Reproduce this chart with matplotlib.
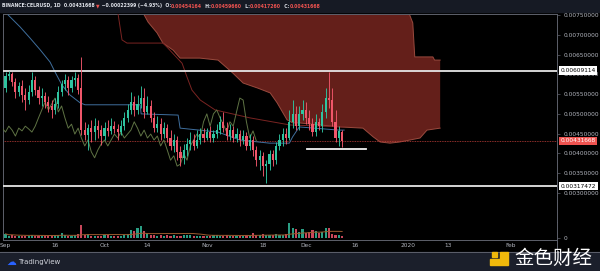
import numpy as np
import pandas as pd
import matplotlib
matplotlib.use("Agg")
import matplotlib.pyplot as plt
from matplotlib.patches import Rectangle, Polygon
from matplotlib.lines import Line2D
from matplotlib.transforms import IdentityTransform

# CELR/USD daily candles, day 0 = 2019-09-01 (prices in 0.001 USD)
opens = [5.65, 5.96, 6.01, 5.81, 5.55, 5.71, 5.48, 5.35, 5.55, 5.86,
         5.60, 5.40, 5.45, 5.30, 5.20, 5.10, 5.25, 5.55, 5.76, 5.86,
         5.65, 5.86, 5.91, 5.65, 4.59, 4.47, 4.64, 4.54, 4.69, 4.59,
         4.44, 4.64, 4.57, 4.69, 4.62, 4.54, 4.69, 4.90, 5.10, 5.30,
         5.10, 5.25, 5.40, 5.05, 5.20, 4.90, 4.64, 4.74, 4.49, 4.64,
         4.39, 4.19, 4.34, 4.04, 3.89, 4.09, 4.24, 4.34, 4.19, 4.34,
         4.49, 4.39, 4.54, 4.39, 4.49, 4.59, 4.80, 4.64, 4.44, 4.59,
         4.39, 4.49, 4.34, 4.44, 4.19, 4.34, 4.09, 3.83, 3.94, 3.68,
         3.73, 3.99, 3.83, 4.19, 4.34, 4.49, 4.39, 4.80, 5.00, 4.69,
         5.00, 5.10, 4.90, 4.74, 4.54, 4.80, 4.69, 5.05, 5.40, 5.35,
         4.80, 4.39, 4.54164]
highs = [6.06, 6.08, 6.06, 5.91, 5.81, 5.86, 5.65, 5.73, 6.06, 5.96,
         5.71, 5.65, 5.55, 5.45, 5.35, 5.40, 5.71, 5.86, 6.01, 5.96,
         5.96, 6.06, 6.01, 6.44, 4.80, 4.74, 4.85, 4.90, 4.85, 4.72,
         4.80, 4.85, 4.90, 4.82, 4.74, 4.85, 5.05, 5.25, 5.55, 5.45,
         5.48, 5.71, 5.65, 5.45, 5.35, 5.05, 4.95, 4.90, 4.80, 4.74,
         4.59, 4.49, 4.44, 4.19, 4.24, 4.39, 4.54, 4.49, 4.59, 4.64,
         4.64, 4.64, 4.69, 4.59, 4.74, 4.95, 5.05, 4.80, 4.74, 4.69,
         4.64, 4.59, 4.59, 4.54, 4.49, 4.44, 4.19, 4.09, 4.04, 3.83,
         4.09, 4.09, 4.29, 4.49, 4.64, 4.64, 5.10, 5.35, 5.20, 5.20,
         5.35, 5.30, 5.10, 4.90, 5.00, 4.90, 5.25, 5.65, 6.06, 5.65,
         5.10, 4.69, 4.59660]
lows = [5.55, 5.86, 5.71, 5.40, 5.45, 5.30, 5.10, 5.25, 5.45, 5.48,
        5.25, 5.20, 5.15, 5.05, 4.90, 5.00, 5.15, 5.45, 5.60, 5.48,
        5.55, 5.71, 5.50, 4.47, 4.34, 4.09, 4.29, 4.34, 4.39, 4.21,
        4.34, 4.44, 4.49, 4.52, 4.34, 4.47, 4.59, 4.80, 5.00, 4.95,
        5.00, 5.15, 4.90, 5.00, 4.80, 4.54, 4.54, 4.34, 4.39, 4.29,
        4.09, 4.04, 3.83, 3.68, 3.73, 3.94, 4.09, 4.09, 4.14, 4.24,
        4.29, 4.34, 4.29, 4.29, 4.39, 4.49, 4.54, 4.34, 4.34, 4.29,
        4.29, 4.19, 4.24, 4.09, 4.09, 3.94, 3.68, 3.58, 3.43, 3.25,
        3.58, 3.68, 3.73, 4.09, 4.19, 4.24, 4.34, 4.64, 4.59, 4.59,
        4.85, 4.74, 4.59, 4.44, 4.44, 4.59, 4.54, 4.90, 5.15, 4.69,
        4.29, 4.19, 4.17260]
closes = [5.96, 6.01, 5.81, 5.55, 5.71, 5.48, 5.35, 5.55, 5.86, 5.60,
          5.40, 5.45, 5.30, 5.20, 5.10, 5.25, 5.55, 5.76, 5.86, 5.65,
          5.86, 5.91, 5.60, 4.59, 4.47, 4.64, 4.54, 4.69, 4.59, 4.44,
          4.64, 4.57, 4.69, 4.62, 4.54, 4.69, 4.90, 5.10, 5.30, 5.10,
          5.25, 5.40, 5.05, 5.20, 4.90, 4.64, 4.74, 4.49, 4.64, 4.39,
          4.19, 4.34, 4.04, 3.89, 4.09, 4.24, 4.34, 4.19, 4.34, 4.49,
          4.39, 4.54, 4.39, 4.49, 4.59, 4.80, 4.64, 4.44, 4.59, 4.39,
          4.49, 4.34, 4.44, 4.19, 4.34, 4.09, 3.83, 3.94, 3.68, 3.73,
          3.99, 3.83, 4.19, 4.34, 4.49, 4.39, 4.80, 5.00, 4.69, 5.00,
          5.10, 4.90, 4.74, 4.54, 4.80, 4.69, 5.05, 5.40, 5.35, 4.80,
          4.39, 4.57, 4.31668]
# volume, millions
volumes = [4, 2, 3, 2, 2, 2, 2, 2, 3, 2,
           2, 2, 2, 2, 2, 3, 3, 5, 3, 2,
           2, 3, 4, 13, 3, 4, 2, 2, 2, 2,
           3, 3, 2, 2, 2, 2, 3, 4, 8, 7,
           10, 12, 7, 5, 3, 3, 2, 3, 2, 3,
           2, 3, 2, 2, 3, 3, 3, 2, 2, 2,
           2, 2, 2, 3, 3, 2, 2, 3, 2, 2,
           2, 2, 2, 3, 2, 5, 3, 3, 4, 3,
           3, 3, 4, 3, 3, 4, 15, 10, 9, 6,
           9, 5, 6, 8, 7, 5, 6, 10, 10, 4,
           3, 3, 2]

# ichimoku pieces: (day, price in 0.001 USD)
cloud_top_d = [41.7, 122.0, 122.7, 123.4, 124.0, 129.5, 130.0, 131.7]
cloud_top_p = [7.60, 7.60, 7.45, 7.30, 6.44, 6.44, 6.36, 6.36]
cloud_bot_d = [41.7, 43.2, 45.9, 47.7, 50.8, 52.9, 58.9, 64.4, 68.9, 72.0, 76.5,
               80.2, 82.3, 85.3, 87.1, 89.2, 101.4, 108.3, 111.4, 113.5, 116.5,
               119.5, 125.6, 127.7, 131.7]
cloud_bot_p = [7.55, 7.32, 7.05, 6.79, 6.61, 6.41, 6.41, 6.36, 6.03, 5.78, 5.65,
               5.53, 5.28, 4.85, 4.77, 4.77, 4.67, 4.64, 4.42, 4.29, 4.26,
               4.29, 4.39, 4.59, 4.64]
tenkan_d = [0.8, 4.4, 7.4, 10.5, 13.5, 15.0, 17.1, 19.5, 22.6, 24.1, 40.8, 41.1,
            52.3, 52.9, 64.4, 71.0, 80.0, 86.0, 87.0, 89.0, 101.0, 102.6]
tenkan_p = [7.50, 7.20, 6.92, 6.62, 6.31, 6.06, 5.73, 5.48, 5.28, 5.23, 5.23, 5.00,
            4.97, 4.64, 4.54, 4.34, 4.26, 4.26, 4.42, 4.67, 4.59, 4.59]
kijun_d = [34.1, 35.3, 36.8, 47.7, 48.9, 53.5, 55.0, 56.5, 59.0, 63.5, 74.0,
           86.2, 102.6]
kijun_p = [7.53, 6.87, 6.79, 6.79, 6.69, 6.28, 5.93, 5.60, 5.35, 5.10, 4.90,
           4.72, 4.67]

levels = [6.09114, 3.17472]       # horizontal rays
support_d = [91.4, 109.2]         # short line under the last candles
support_p = 4.11

tick_days = [0, 15, 30, 43, 61, 78, 91, 106, 122, 134, 153]
tick_labels = ["Sep", "16", "Oct", "14", "Nov", "18", "Dec", "16", "2020", "13", "Feb"]

o = np.array(opens) * 1e-3
h = np.array(highs) * 1e-3
l = np.array(lows) * 1e-3
c = np.array(closes) * 1e-3
v = np.array(volumes, dtype=float)
days = np.arange(len(c))

UP = "#2fc4a0"
DOWN = "#f0566a"
GRID = "#5d606b"
TXT = "#b2b5be"
W, H = 600, 271

fig = plt.figure(figsize=(6, 2.71), dpi=100, facecolor="#000000")


def rect(l_, t_, r_, b_):
    return [l_ / W, 1 - b_ / H, (r_ - l_) / W, (b_ - t_) / H]


# header / footer strips
fig.add_artist(Rectangle((0, 1 - 12 / H), 1, 12 / H, transform=fig.transFigure,
                         color="#161a24", zorder=0))
fig.add_artist(Rectangle((0, 0), 1, 19 / H, transform=fig.transFigure,
                         color="#1b1f2b", zorder=0))

ax = fig.add_axes(rect(3, 14, 557, 222), facecolor="#000000")
vax = fig.add_axes(rect(3, 222, 557, 240), facecolor="#000000", sharex=ax)

ax.set_xlim(-0.76, 167.1)
ax.set_ylim(0.0022670, 0.0075250)

# cloud
cx = np.r_[cloud_top_d, cloud_bot_d[::-1]]
cy = np.r_[cloud_top_p, cloud_bot_p[::-1]] * 1e-3
ax.fill(cx, cy, color="#6a211c", alpha=0.95, lw=0, zorder=1)
ax.plot(cloud_bot_d, np.array(cloud_bot_p) * 1e-3, color="#9a4a3e", lw=0.7, zorder=2)
ax.plot(cloud_top_d, np.array(cloud_top_p) * 1e-3, color="#9a4a3e", lw=0.7, zorder=2)

# ichimoku lines
ax.plot(tenkan_d, np.array(tenkan_p) * 1e-3, color="#3f6f9e", lw=0.7, zorder=3)
ax.plot(kijun_d, np.array(kijun_p) * 1e-3, color="#7a2422", lw=0.7, zorder=3)
ax.plot(days - 26, c, color="#5f7344", lw=0.7, zorder=3)  # lagging span

# levels
for p in levels:
    ax.axhline(p * 1e-3, color="#e6e6e6", lw=1.3, zorder=4)
ax.plot(support_d, [support_p * 1e-3] * 2, color="#f2f2f2", lw=1.3, zorder=4)
ax.axhline(c[-1], color="#c0403a", lw=0.6, ls=(0, (1, 1)), zorder=2)

# candles
up = c >= o
cols = np.where(up, UP, DOWN)
ax.vlines(days, l, h, colors=cols, lw=0.65, zorder=5)
ax.bar(days, np.maximum(np.abs(c - o), 0.000012), bottom=np.minimum(o, c),
       width=0.65, color=cols, lw=0, zorder=6)

# right price scale
yt = np.arange(0.0030, 0.00751, 0.0005)
ax.set_yticks(yt)
ax.set_yticklabels(["%.8f" % t for t in yt])
ax.yaxis.tick_right()
ax.tick_params(axis="y", colors=GRID, labelcolor=TXT, labelsize=4.2, length=2.5,
               width=0.5, pad=2)
ax.tick_params(axis="x", bottom=False, labelbottom=False)
for s in ax.spines.values():
    s.set_color(GRID)
    s.set_linewidth(0.7)
ax.spines["bottom"].set_color("#8a8d96")

yb = ax.get_yaxis_transform()
for p in levels:
    ax.text(1.006, p * 1e-3, "%.8f" % (p * 1e-3), transform=yb, fontsize=4.2,
            color="#000000", va="center", ha="left", zorder=10, clip_on=False,
            bbox=dict(boxstyle="square,pad=0.3", fc="#ffffff", ec="none"))
ax.text(1.006, c[-1], "%.8f" % c[-1], transform=yb, fontsize=4.2, color="#ffffff",
        va="center", ha="left", zorder=10, clip_on=False,
        bbox=dict(boxstyle="square,pad=0.3", fc="#ef5350", ec="none"))

# volume pane
vcols = np.where(up, "#2a9e84", "#c8475a")
vax.bar(days, v, width=0.65, color=vcols, lw=0, zorder=3)
vma = pd.Series(v).rolling(20, min_periods=1).mean()
vax.plot(days, vma, color="#9a5a2e", lw=0.7, zorder=4)
vax.set_ylim(-2.3, 16)
vax.set_yticks([0])
vax.set_yticklabels(["0"])
vax.yaxis.tick_right()
vax.tick_params(axis="y", colors=GRID, labelcolor=TXT, labelsize=4.2, length=2.5,
                width=0.5, pad=2)
vax.set_xticks(tick_days)
vax.set_xticklabels(tick_labels)
vax.tick_params(axis="x", colors=GRID, labelcolor=TXT, labelsize=4.2, length=0, pad=2.5)
for s in vax.spines.values():
    s.set_color(GRID)
    s.set_linewidth(0.7)
vax.spines["top"].set_visible(False)

# frame lines outside the panes
fig.add_artist(Line2D([0, 1], [1 - 252 / H] * 2, transform=fig.transFigure,
                      color=GRID, lw=0.7))
fig.add_artist(Line2D([557 / W] * 2, [1 - 252 / H, 1 - 240 / H], transform=fig.transFigure,
                      color=GRID, lw=0.7))

# header text, pieces placed one after another
fig.canvas.draw()
r = fig.canvas.get_renderer()
hx = 2
hy = H - 6
head = [("BINANCE:CELRUSD, 1D  0.00431668 ", "#e0e3ea"), ("\u25bc", "#ef5350"),
        (" \u22120.00022399 (\u22124.93%)  O:", "#e0e3ea"), ("0.00454164", "#ef5350"),
        ("  H:", "#e0e3ea"), ("0.00459660", "#ef5350"), ("  L:", "#e0e3ea"),
        ("0.00417260", "#ef5350"), ("  C:", "#e0e3ea"), ("0.00431668", "#ef5350")]
for s, col in head:
    t = fig.text(hx, hy, s, color=col, fontsize=3.3, va="center", ha="left",
                 fontweight="bold", transform=IdentityTransform())
    hx = t.get_window_extent(r).x1

# footer: TradingView mark and watermark
fig.text(6 / W, 9 / H, "\u2601", color="#2962ff", fontsize=7, va="center", ha="left")
fig.text(18 / W, 9 / H, "TradingView", color="#d1d4dc", fontsize=5, va="center", ha="left")
logo = [(490, 259), (500, 259), (500, 252), (508, 252), (508, 265), (490, 265)]
fig.add_artist(Polygon([(px / W, 1 - py / H) for px, py in logo], closed=True,
                       transform=fig.transFigure, color="#f0b90b", zorder=5))
fig.add_artist(Rectangle((492 / W, 1 - 257 / H), 5 / W, 5 / H, transform=fig.transFigure,
                         color="#f0b90b", zorder=5))
fig.text(514 / W, 13 / H, "金色财经", color="#ffffff", fontsize=14, va="center",
         ha="left", family=["Noto Sans CJK SC", "DejaVu Sans"], zorder=6)

fig.savefig("out.png", dpi=100, facecolor=fig.get_facecolor())
